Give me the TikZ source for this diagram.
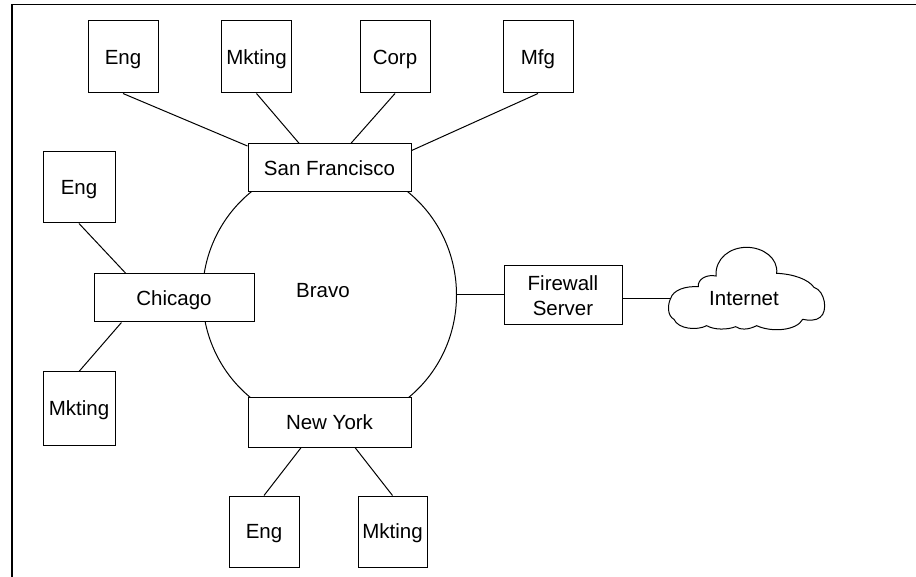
\documentclass[tikz,border=0pt]{standalone}
\usepackage{fontspec}
\setmainfont{Liberation Sans}
\usetikzlibrary{shapes.geometric}
\begin{document}
\begin{tikzpicture}[x=1pt,y=-1pt,
  every node/.style={font=\fontsize{20.5}{25}\selectfont},
  line/.style={draw=black,line width=1pt},
  dept/.style={line,fill=white,inner sep=0pt,text depth=0pt,minimum width=70pt,minimum height=72pt},
  site/.style={line,fill=white,inner sep=0pt,text depth=0pt,minimum width=163pt,minimum height=48pt},
  link/.style={line}]
\useasboundingbox (0,0) rectangle (916,577);

% page frame (open at right and bottom)
\draw[line width=1.6pt] (916,4.5) -- (12,4.5) -- (12,577);

% backbone ring
\node[line,ellipse,inner sep=0pt,minimum width=254pt,minimum height=262pt] (ring) at (329.5,295) {};
\node[text depth=0pt] (bravo) at (323,290) {Bravo};

% sites on the ring
\node[site] (sf) at (329.5,168) {San Francisco};
\node[site,minimum height=50pt] (ny) at (329.5,422) {New York};
\node[site,minimum width=160pt] (chi) at (174,298) {Chicago};

% departments
\node[dept] (sfeng) at (123,57) {Eng};
\node[dept] (sfmkt) at (256.5,57) {Mkting};
\node[dept] (sfcorp) at (395,57) {Corp};
\node[dept] (sfmfg) at (538,57) {Mfg};
\node[dept,minimum width=72pt,minimum height=71pt] (chieng) at (79,187.5) {Eng};
\node[dept,minimum width=72pt,minimum height=73pt] (chimkt) at (79,408.5) {Mkting};
\node[dept,minimum height=71pt] (nyeng) at (264,531.5) {Eng};
\node[dept,minimum width=69pt,minimum height=71pt] (nymkt) at (392.5,531.5) {Mkting};

% firewall
\node[line,fill=white,inner sep=0pt,minimum width=118pt,minimum height=59pt,align=center] (fw) at (563,295.5) {Firewall\\Server};

% internet cloud
\begin{scope}[shift={(640,230)},scale=1/3]
\draw[line width=1pt,fill=white]
  (92,205) .. controls (100,180) and (135,168) .. (175,170)
  .. controls (172,148) and (200,132) .. (228,138)
  .. controls (225,85) and (270,52) .. (320,52)
  .. controls (370,52) and (415,85) .. (410,130)
  .. controls (460,132) and (505,148) .. (522,172)
  .. controls (555,182) and (565,245) .. (540,262)
  .. controls (530,272) and (505,272) .. (488,268)
  .. controls (470,302) and (395,308) .. (350,287)
  .. controls (325,300) and (300,300) .. (287,290)
  .. controls (262,300) and (222,300) .. (200,287)
  .. controls (172,302) and (115,298) .. (102,268)
  .. controls (82,258) and (82,225) .. (92,205) -- cycle;
\coordinate (cloudw) at (91,205);
\end{scope}
\node[text depth=0pt] (inet) at (744,298) {Internet};

% connectors
\draw[link] (sfeng.south) -- (sf.165);
\draw[link] (sfmkt.south) -- (sf.141);
\draw[link] (sfcorp.south) -- (sf.49.5);
\draw[link] (sfmfg.south) -- (sf.12.5);
\draw[link] (chieng.south) -- (chi.153.4);
\draw[link] (chimkt.north) -- (chi.205);
\draw[link] (ny.222) -- (nyeng.north);
\draw[link] (ny.315.6) -- (nymkt.north);
\draw[link] (ring.east) -- (ring.east -| fw.west);
\draw[link] (fw.east |- cloudw) -- (cloudw);
\end{tikzpicture}
\end{document}
